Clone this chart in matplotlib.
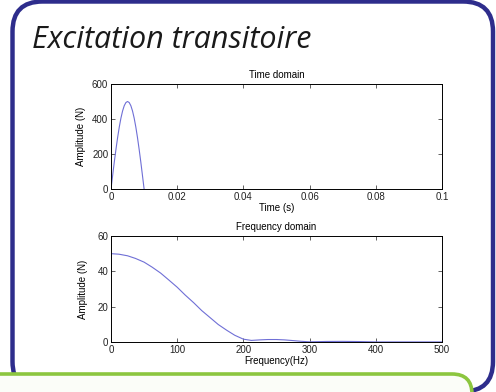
import matplotlib.pyplot as plt
from matplotlib.patches import FancyBboxPatch

plt.rcParams['font.family'] = ['Liberation Sans', 'DejaVu Sans']

# time-domain pulse (half sine, 10 ms)
t_ms = [0.0, 0.0005, 0.001, 0.0015, 0.002, 0.0025, 0.003, 0.0035, 0.004, 0.0045, 0.005,
        0.0055, 0.006, 0.0065, 0.007, 0.0075, 0.008, 0.0085, 0.009, 0.0095, 0.01]
force = [0, 78, 155, 227, 294, 354, 405, 446, 476, 494, 500,
         494, 476, 446, 405, 354, 294, 227, 155, 78, 0]

# amplitude spectrum of the pulse
freq = [0, 12, 25, 37, 50, 62, 75, 87, 100, 112, 125, 137, 150, 162, 175, 187, 200,
        212, 225, 237, 250, 262, 275, 287, 300, 325, 350, 375, 400, 450, 500]
amp = [50, 49.7, 48.8, 47.3, 45.2, 42.4, 39.0, 35.2, 31.0, 26.6, 22.2, 17.8, 13.7,
       9.9, 6.6, 3.8, 1.6, 0.9, 1.2, 1.4, 1.4, 1.2, 0.8, 0.4, 0.1, 0.3, 0.35, 0.25, 0.05, 0.05, 0.05]

LINE = '#6f6fd6'
FS = 7
DPI = 100
fig = plt.figure(figsize=(4.96, 3.92), dpi=DPI)
fig.patch.set_facecolor('white')

# slide frame drawn in pixel space
bg = fig.add_axes([0, 0, 1, 1])
bg.set_xlim(0, 496)
bg.set_ylim(392, 0)
bg.axis('off')
bg.add_patch(FancyBboxPatch((12.5, 1.5), 480.5, 390, boxstyle='round,pad=0,rounding_size=30',
                            facecolor='white', edgecolor='#2e2d8c', linewidth=3.2))
bg.add_patch(FancyBboxPatch((-20, 374), 492, 60, boxstyle='round,pad=0,rounding_size=20',
                            facecolor='#fbfdf8', edgecolor='#8cc63f', linewidth=2.6))
bg.text(32, 48, 'Excitation transitoire', fontsize=22, fontstyle='italic',
        family='Open Sans', color='#1a1a1a', va='baseline')

def style(ax):
    ax.tick_params(direction='in', length=3, width=0.5, labelsize=FS, pad=2,
                   top=True, right=True, colors='#222222')
    for s in ax.spines.values():
        s.set_linewidth(0.7)
        s.set_zorder(3)

ax1 = fig.add_axes([111 / 496, 1 - 189 / 392, 331 / 496, 105 / 392])
ax1.plot(t_ms, force, color=LINE, linewidth=0.8)
ax1.set_xlim(0, 0.1)
ax1.set_ylim(0, 600)
ax1.set_xticks([0, 0.02, 0.04, 0.06, 0.08, 0.1])
ax1.set_xticklabels(['0', '0.02', '0.04', '0.06', '0.08', '0.1'])
ax1.set_yticks([0, 200, 400, 600])
ax1.set_title('Time domain', fontsize=FS, pad=4)
ax1.set_xlabel('Time (s)', fontsize=FS, labelpad=1)
ax1.set_ylabel('Amplitude (N)', fontsize=FS, labelpad=4)
style(ax1)

ax2 = fig.add_axes([111 / 496, 1 - 342 / 392, 331 / 496, 106 / 392])
ax2.plot(freq, amp, color=LINE, linewidth=0.8)
ax2.set_xlim(0, 500)
ax2.set_ylim(0, 60)
ax2.set_xticks([0, 100, 200, 300, 400, 500])
ax2.set_yticks([0, 20, 40, 60])
ax2.set_title('Frequency domain', fontsize=FS, pad=4)
ax2.set_xlabel('Frequency(Hz)', fontsize=FS, labelpad=1)
ax2.set_ylabel('Amplitude (N)', fontsize=FS, labelpad=7)
style(ax2)

fig.savefig('out.png', dpi=DPI)
